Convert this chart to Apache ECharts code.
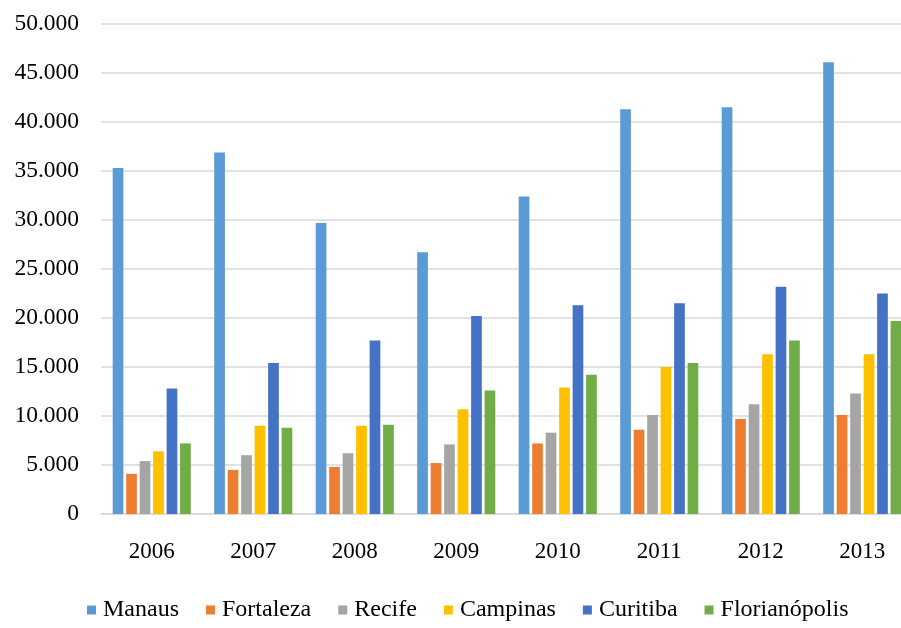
<!DOCTYPE html>
<html>
<head>
<meta charset="utf-8">
<script src="https://cdn.jsdelivr.net/npm/echarts@6/dist/echarts.min.js"></script>
<style>
    html, body { margin: 0; padding: 0; background: #fff; }
    #chart { width: 901px; height: 628px; }
</style>
</head>
<body>
<div id="chart"></div>
<script>
let anos = ['2006', '2007', '2008', '2009', '2010', '2011', '2012', '2013'];

let manaus       = [35300, 36900, 29700, 26700, 32400, 41300, 41500, 46100];
let fortaleza    = [4100, 4500, 4800, 5200, 7200, 8600, 9700, 10100];
let recife       = [5400, 6000, 6200, 7100, 8300, 10100, 11200, 12300];
let campinas     = [6400, 9000, 9000, 10700, 12900, 15000, 16300, 16300];
let curitiba     = [12800, 15400, 17700, 20200, 21300, 21500, 23200, 22500];
let florianopolis = [7200, 8800, 9100, 12600, 14200, 15400, 17700, 19700];

let cidades = ['Manaus', 'Fortaleza', 'Recife', 'Campinas', 'Curitiba', 'Florianópolis'];
let valores = [manaus, fortaleza, recife, campinas, curitiba, florianopolis];
let cores = ['#5B9BD5', '#ED7D31', '#A5A5A5', '#FFC000', '#4472C4', '#70AD47'];

let fonte = 'Liberation Serif';

// formata 35000 -> 35.000
function formatMil(v) {
    return String(v).replace(/\B(?=(\d{3})+(?!\d))/g, '.');
}

let myChart = echarts.init(document.getElementById('chart'));

let series = cidades.map(function (nome, i) {
    return {
        name: nome,
        type: 'bar',
        data: valores[i],
        barWidth: 10.7,
        barGap: '26%',
        itemStyle: { color: cores[i] }
    };
});

let option = {
    animation: false,
    color: cores,
    grid: {
        left: 101,
        top: 24,
        width: 812,
        height: 490,
        outerBoundsMode: 'none'
    },
    legend: {
        data: cidades,
        bottom: 1,
        left: 82,
        icon: 'rect',
        itemWidth: 9,
        itemHeight: 9,
        itemGap: 27,
        textStyle: { fontFamily: fonte, fontSize: 24, color: '#000', padding: [0, 0, 0, 2] }
    },
    xAxis: {
        type: 'category',
        data: anos,
        axisLine: { lineStyle: { color: '#D9D9D9', width: 1.5 } },
        axisTick: { show: false },
        axisLabel: { fontFamily: fonte, fontSize: 23, color: '#000', margin: 26 }
    },
    yAxis: {
        type: 'value',
        min: 0,
        max: 50000,
        interval: 5000,
        axisLine: { show: false },
        axisTick: { show: false },
        splitLine: { lineStyle: { color: '#D9D9D9', width: 1.5 } },
        axisLabel: {
            fontFamily: fonte,
            fontSize: 23.5,
            color: '#000',
            margin: 22,
            formatter: formatMil
        }
    },
    series: series
};

myChart.setOption(option);
</script>
</body>
</html>
